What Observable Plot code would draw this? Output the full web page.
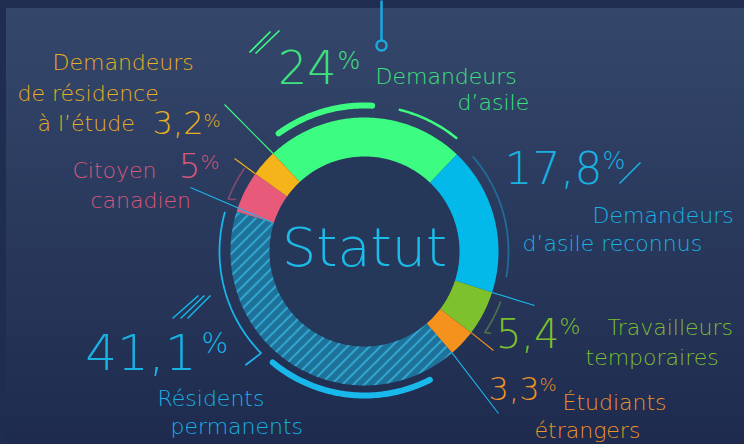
<!DOCTYPE html>
<html><head><meta charset="utf-8">
<script src="https://cdn.jsdelivr.net/npm/d3@7"></script>
<script src="https://cdn.jsdelivr.net/npm/@observablehq/plot@0.6"></script>
<style>
html,body{margin:0;padding:0;background:#1f2d51;}
#wrap{position:relative;width:744px;height:444px;overflow:hidden;background:#1f2d51;}
#panel{position:absolute;left:6px;top:8px;right:0;bottom:0;background:linear-gradient(#34476b,#1e2b4e);}
#chart{position:absolute;left:0;top:0;}
</style></head><body>
<div id="wrap"><div id="panel"></div><div id="chart"></div></div>
<script>
// ---- data ----
const categories = ["Demandeurs d’asile", "Demandeurs d’asile reconnus", "Travailleurs temporaires", "Étudiants étrangers", "Résidents permanents", "Citoyen canadien", "Demandeurs de résidence à l’étude"];
const shares = [24, 17.8, 5.4, 3.3, 41.1, 5, 3.2];
const shareText = ["24", "17,8", "5,4", "3,3", "41,1", "5", "3,2"];
const labelLines = [["Demandeurs", "d’asile"], ["Demandeurs", "d’asile reconnus"], ["Travailleurs", "temporaires"], ["Étudiants", "étrangers"], ["Résidents", "permanents"], ["Citoyen", "canadien"], ["Demandeurs", "de résidence", "à l’étude"]];
const centerTitle = "Statut";

// ---- styles ----
const sliceFills = ["#3dfc82", "#02b9ea", "#7dc22c", "#f5921e", "url(#hatch)", "#e85a7a", "#f5b41a"];
const textColors = ["#3ee27e", "#18b2e3", "#7cbf2e", "#ef9327", "#18b2e3", "#d8577a", "#e8b020"];

// ---- layout ----
const W = 744, H = 444, cx = 364, cy = 251, rOuter = 134, rInner = 95, startDeg = -43;
const FONT = "'DejaVu Sans ExtraLight', 'DejaVu Sans', sans-serif";
const numLayout = [
  {x: 336, y: 83, s: 46, px: 337, py: 68, ps: 24},
  {x: 602, y: 183, s: 44, px: 602, py: 168, ps: 24},
  {x: 559, y: 347, s: 40, px: 559, py: 333, ps: 22},
  {x: 539, y: 399, s: 32, px: 539, py: 390, ps: 18},
  {x: 196, y: 369, s: 50, px: 201, py: 352, ps: 28},
  {x: 200, y: 177, s: 34, px: 200, py: 168, ps: 20},
  {x: 203, y: 133, s: 32, px: 203, py: 126, ps: 18}
];
const lineLayout = [
  [[375, 83], [457, 109]],
  [[592, 222], [522, 250]],
  [[607, 334], [585, 364]],
  [[562, 409], [534, 437]],
  [[157, 405], [170, 433]],
  [[72, 177], [90, 207]],
  [[52, 69], [17, 100], [37, 130]]
];

const rad = d => d * Math.PI / 180;
const polar = (r, deg) => [cx + r * Math.sin(rad(deg)), cy - r * Math.cos(rad(deg))];
function arcPts(r, a0, a1, step = 1) {
  const n = Math.max(2, Math.ceil(Math.abs(a1 - a0) / step));
  return d3.range(n + 1).map(i => polar(r, a0 + (a1 - a0) * i / n));
}

const pie = d3.pie().sort(null).startAngle(rad(startDeg)).endAngle(rad(startDeg + 360))(shares);
const bounds = pie.map(p => [p.startAngle * 180 / Math.PI, p.endAngle * 180 / Math.PI]);

const slicePts = pie.flatMap((p, i) => {
  const [a0, a1] = bounds[i];
  return [...arcPts(rOuter, a0, a1), ...arcPts(rInner, a1, a0)].map(([x, y]) => ({x, y, k: i, fill: sliceFills[i]}));
});
const innerPts = arcPts(rInner - 0.5, 0, 360).map(([x, y]) => ({x, y}));

const decor = [
  {pts: arcPts(146, -36, 3), c: "#3dfc82", w: 6},
  {pts: arcPts(146, 14, 39), c: "#3dfc82", w: 2.5},
  {pts: arcPts(144, 49, 100), c: "#1f6d96", w: 2},
  {pts: [...arcPts(145, 110.5, 124), polar(150, 123)], c: "#4b6e4e", w: 1.6},
  {pts: [...arcPts(146, -55.5, -69), polar(139, -68)], c: "#7b4a6d", w: 1.6},
  {pts: [...arcPts(145, 285.6, 225.5), polar(164, 226.3)], c: "#1ab6ea", w: 2},
  {pts: arcPts(144, 219.6, 153), c: "#19b8ec", w: 6}
];
const decorPts = decor.flatMap((d, k) => d.pts.map(([x, y]) => ({x, y, k, c: d.c, w: d.w})));

const leaders = [
  {p: polar(rOuter, bounds[0][0]), e: [224, 104], c: "#3dfc82"},
  {p: polar(rOuter, bounds[5][1]), e: [234, 158], c: "#f5b41a"},
  {p: polar(rInner + 2, bounds[4][1]), e: [190, 187], c: "#1ab6ea"},
  {p: polar(rOuter, bounds[1][1]), e: [534, 305], c: "#1ab6ea"},
  {p: polar(rOuter, bounds[2][1]), e: [493, 350], c: "#f5921e"},
  {p: polar(rOuter, bounds[3][1]), e: [498, 413], c: "#1ab6ea"}
];
const slashes = [
  {a: [249, 52], b: [270, 31], c: "#3dfc82"},
  {a: [255, 53], b: [279, 30], c: "#3dfc82"},
  {a: [619, 183], b: [640, 162], c: "#18b2e3"},
  {a: [172, 318], b: [198, 295], c: "#18b2e3"},
  {a: [180, 318], b: [204, 295], c: "#18b2e3"},
  {a: [187, 318], b: [210, 295], c: "#18b2e3"}
];
const pin = {x: 381, y0: 0, y1: 40, cy: 45};

const numbers = shareText.map((t, i) => ({t, x: numLayout[i].x, y: numLayout[i].y, s: numLayout[i].s, c: textColors[i]}));
const pcts = shareText.map((t, i) => ({t: "%", x: numLayout[i].px, y: numLayout[i].py, s: numLayout[i].ps, c: textColors[i]}));
const lines = labelLines.flatMap((ls, i) => ls.map((t, j) => ({t, x: lineLayout[i][j][0], y: lineLayout[i][j][1], s: 22, c: textColors[i]})));

const txt = (data, anchor) => Plot.text(data, {x: "x", y: "y", text: "t", fill: "c", fontSize: "s", textAnchor: anchor, lineAnchor: "bottom", fontFamily: FONT, fontWeight: 200});

const chart = Plot.plot({
  width: W, height: H, margin: 0,
  x: {domain: [0, W], range: [0, W], axis: null},
  y: {domain: [0, H], range: [0, H], axis: null},
  color: {type: "identity"},
  style: {background: "transparent", fontFamily: FONT},
  marks: [
    Plot.link([pin], {x1: "x", x2: "x", y1: "y0", y2: "y1", stroke: "#19a9e0", strokeWidth: 2.5}),
    Plot.dot([pin], {x: "x", y: "cy", r: 5, stroke: "#19a9e0", strokeWidth: 2.5, fill: "none"}),
    Plot.line(decorPts.filter(d => d.k === 6 || d.k === 0), {x: "x", y: "y", z: "k", stroke: "c", strokeWidth: 6, strokeLinecap: "round"}),
    Plot.line(decorPts.filter(d => d.k === 1), {x: "x", y: "y", z: "k", stroke: "c", strokeWidth: 2.5, strokeLinecap: "round"}),
    Plot.line(decorPts.filter(d => d.k >= 2 && d.k <= 5), {x: "x", y: "y", z: "k", stroke: "c", strokeWidth: 1.8, strokeLinejoin: "miter"}),
    Plot.line(slicePts, {x: "x", y: "y", z: "k", fill: "fill", stroke: "none", curve: "linear-closed"}),
    Plot.line(innerPts, {x: "x", y: "y", fill: "#263859", stroke: "none", curve: "linear-closed"}),
    Plot.link(leaders, {x1: d => d.p[0], y1: d => d.p[1], x2: d => d.e[0], y2: d => d.e[1], stroke: "c", strokeWidth: 1.1}),
    Plot.link(slashes, {x1: d => d.a[0], y1: d => d.a[1], x2: d => d.b[0], y2: d => d.b[1], stroke: "c", strokeWidth: 1.6}),
    Plot.text([centerTitle], {x: [cx], y: [265], text: d => d, fill: "#1cbcea", fontSize: 54, textAnchor: "middle", lineAnchor: "bottom", fontFamily: FONT, fontWeight: 200}),
    txt(numbers, "end"),
    txt(pcts, "start"),
    txt(lines, "start")
  ]
});
const defs = d3.select(chart).insert("defs", ":first-child");
defs.html(`<pattern id="hatch" patternUnits="userSpaceOnUse" width="11" height="11">
<rect width="11" height="11" fill="#1e7199"/>
<path d="M-2,2 L2,-2 M0,11 L11,0 M9,13 L13,9" stroke="#3bbfe8" stroke-width="1.4"/>
</pattern>`);
document.getElementById("chart").appendChild(chart);
</script>
</body></html>
